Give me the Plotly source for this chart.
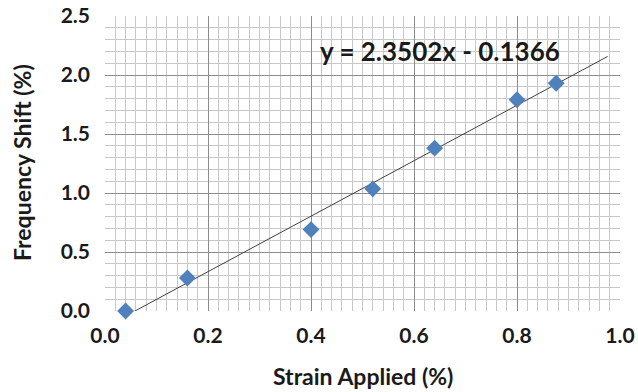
import plotly.graph_objects as go

strain = [0.04, 0.16, 0.40, 0.52, 0.64, 0.80, 0.876]
freq_shift = [0.0, 0.28, 0.69, 1.035, 1.38, 1.79, 1.93]
slope = 2.3502
intercept = -0.1366
trend_x = [0.04, 0.976]
trend_y = [slope * v + intercept for v in trend_x]
x_ticks = [0.0, 0.2, 0.4, 0.6, 0.8, 1.0]
y_ticks = [0.0, 0.5, 1.0, 1.5, 2.0, 2.5]
equation = "y = 2.3502x - 0.1366"
x_title = "Strain Applied (%)"
y_title = "Frequency Shift (%)"

font_family = "Lato"
text_color = "#1a1a1a"

fig = go.Figure()
fig.add_trace(go.Scatter(
    x=trend_x, y=trend_y, mode="lines",
    line=dict(color="#404040", width=1), showlegend=False, cliponaxis=True))
fig.add_trace(go.Scatter(
    x=strain, y=freq_shift, mode="markers",
    marker=dict(symbol="diamond", size=13, color="#4F81BD"),
    showlegend=False, cliponaxis=False))

fig.add_annotation(x=0.650, y=2.20, xref="x", yref="y", text="<b>" + equation + "</b>",
                   showarrow=False, xanchor="center", yanchor="middle",
                   font=dict(family=font_family, size=26, color=text_color))
fig.add_annotation(x=363, y=392 - 376, xref="paper", yref="paper",
                   text="<b>" + x_title + "</b>", showarrow=False,
                   xanchor="center", yanchor="middle",
                   font=dict(family=font_family, size=23, color=text_color))
fig.add_annotation(x=22, y=392 - 163, xref="paper", yref="paper",
                   text="<b>" + y_title + "</b>", showarrow=False, textangle=-90,
                   xanchor="center", yanchor="middle",
                   font=dict(family=font_family, size=23, color=text_color))

axis_common = dict(
    showgrid=True, gridcolor="#8c8c8c", gridwidth=1,
    zeroline=False, showline=False, ticks="", automargin=False,
    tickfont=dict(family=font_family, size=21, color=text_color, weight="bold"),
)

fig.update_xaxes(
    range=[0, 1.0], tickvals=x_ticks, ticktext=[f"{v:.1f}" for v in x_ticks],
    ticklabelstandoff=10,
    minor=dict(dtick=0.02, tick0=0, showgrid=True, gridcolor="#c8c8c8", gridwidth=1),
    **axis_common)
fig.update_yaxes(
    range=[0, 2.5], tickvals=y_ticks, ticktext=[f"{v:.1f}" for v in y_ticks],
    ticklabelstandoff=14,
    minor=dict(dtick=0.1, tick0=0, showgrid=True, gridcolor="#c8c8c8", gridwidth=1),
    **axis_common)

W, H = 638, 392
ml, mr, mt, mb = 105, 18, 16, 81
fig.update_layout(
    width=W, height=H,
    margin=dict(l=ml, r=mr, t=mt, b=mb),
    plot_bgcolor="white", paper_bgcolor="white",
)

# convert the paper-pixel positions of the axis titles into paper fractions
pw, ph = W - ml - mr, H - mt - mb
for ann in fig.layout.annotations[1:]:
    ann.x = (ann.x - ml) / pw
    ann.y = (ann.y - mb) / ph

fig.write_html("out.html", config={"displayModeBar": False},
               post_script="document.body.style.margin='0';document.body.style.overflow='hidden';")
